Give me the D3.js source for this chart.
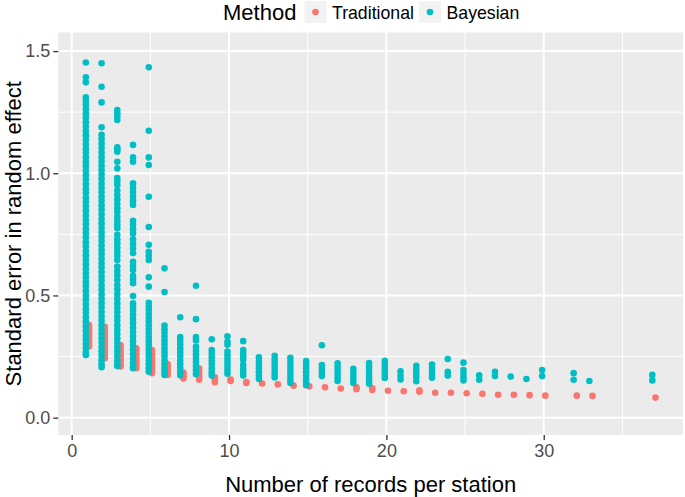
<!DOCTYPE html>
<html>
<head>
<meta charset="utf-8">
<script src="https://cdn.jsdelivr.net/npm/d3@7/dist/d3.min.js"></script>
<style>
body { margin: 0; background: #fff; }
text { font-family: "Liberation Sans", Arial, Helvetica, sans-serif; }
</style>
</head>
<body>
<div id="chart"></div>
<script>
// number of records per station (x categories that appear in the plot)
var recordsPerStation = [1, 2, 3, 4, 5, 6, 7, 8, 9, 10, 11, 12, 13, 14, 15, 16, 17, 18, 19, 20,
	21, 22, 23, 24, 25, 26, 27, 28, 29, 30, 32, 33, 37];

// standard error, traditional method (one list per x above)
var traditionalSE = [
	[0.379, 0.371, 0.364, 0.356, 0.349, 0.341, 0.334, 0.326, 0.318, 0.311, 0.303, 0.297, 0.291],
	[0.372, 0.363, 0.354, 0.345, 0.336, 0.327, 0.318, 0.309, 0.300, 0.291, 0.282, 0.272, 0.262, 0.252, 0.243],
	[0.297, 0.289, 0.280, 0.271, 0.262, 0.253, 0.244, 0.235, 0.226, 0.217, 0.209],
	[0.284, 0.275, 0.266, 0.257, 0.248, 0.239, 0.230, 0.221, 0.212, 0.202],
	[0.277, 0.268, 0.258, 0.248, 0.238, 0.228, 0.218, 0.209, 0.200, 0.191, 0.182],
	[0.219, 0.208, 0.197, 0.186, 0.175],
	[0.185, 0.176, 0.167, 0.160],
	[0.202, 0.190, 0.178, 0.166, 0.155],
	[0.165, 0.155, 0.145],
	[0.156, 0.150],
	[0.146, 0.142],
	[0.140],
	[0.136],
	[0.131],
	[0.128],
	[0.124],
	[0.119],
	[0.124, 0.116],
	[0.120, 0.113],
	[0.110],
	[0.108],
	[0.112, 0.106],
	[0.102],
	[0.102],
	[0.100],
	[0.098],
	[0.094],
	[0.094],
	[0.092],
	[0.090],
	[0.090],
	[0.089],
	[0.082]
];

// standard error, bayesian method (one list per x above)
var bayesianSE = [
	[1.453, 1.393, 1.372, 1.311, 1.296, 1.279, 1.262, 1.244, 1.227, 1.209, 1.190, 1.172, 1.155, 1.137, 1.118, 1.100,
		1.083, 1.064, 1.046, 1.028, 1.010, 0.992, 0.974, 0.955, 0.937, 0.919, 0.900, 0.882, 0.864, 0.846, 0.828,
		0.809, 0.791, 0.773, 0.755, 0.737, 0.718, 0.700, 0.682, 0.664, 0.645, 0.627, 0.609, 0.591, 0.573, 0.555,
		0.537, 0.518, 0.500, 0.482, 0.464, 0.446, 0.428, 0.410, 0.392, 0.374, 0.356, 0.338, 0.320, 0.302, 0.284,
		0.266, 0.256],
	[1.450, 1.354, 1.290, 1.188, 1.157, 1.139, 1.122, 1.104, 1.085, 1.067, 1.049, 1.031, 1.013, 0.995, 0.977,
		0.958, 0.940, 0.922, 0.904, 0.886, 0.868, 0.850, 0.831, 0.813, 0.795, 0.777, 0.759, 0.741, 0.723, 0.704,
		0.686, 0.668, 0.650, 0.632, 0.614, 0.596, 0.578, 0.560, 0.541, 0.523, 0.505, 0.487, 0.469, 0.451, 0.433,
		0.415, 0.397, 0.379, 0.361, 0.343, 0.325, 0.307, 0.289, 0.271, 0.253, 0.235, 0.218, 0.206],
	[1.259, 1.245, 1.232, 1.218, 1.106, 1.097, 1.088, 1.047, 1.020, 0.980, 0.966, 0.952, 0.929, 0.911, 0.893,
		0.875, 0.857, 0.840, 0.822, 0.806, 0.790, 0.775, 0.748, 0.730, 0.713, 0.696, 0.679, 0.662, 0.645, 0.618,
		0.600, 0.582, 0.563, 0.543, 0.525, 0.506, 0.487, 0.468, 0.450, 0.432, 0.414, 0.396, 0.378, 0.360, 0.342,
		0.324, 0.306, 0.288, 0.270, 0.252, 0.234, 0.218, 0.211],
	[1.116, 1.065, 1.047, 0.959, 0.941, 0.923, 0.905, 0.887, 0.870, 0.806, 0.789, 0.771, 0.754, 0.730, 0.711,
		0.692, 0.673, 0.638, 0.621, 0.604, 0.580, 0.565, 0.550, 0.498, 0.468, 0.454, 0.440, 0.422, 0.404, 0.386,
		0.368, 0.350, 0.332, 0.314, 0.296, 0.278, 0.260, 0.242, 0.224, 0.208, 0.202],
	[1.434, 1.174, 1.065, 1.034, 0.904, 0.780, 0.707, 0.679, 0.662, 0.645, 0.574, 0.536, 0.470, 0.455, 0.440,
		0.425, 0.410, 0.394, 0.378, 0.362, 0.346, 0.330, 0.314, 0.298, 0.282, 0.266, 0.250, 0.234, 0.218, 0.202, 0.188],
	[0.611, 0.514, 0.377, 0.362, 0.347, 0.331, 0.315, 0.299, 0.283, 0.267, 0.251, 0.235, 0.219, 0.203, 0.189, 0.175],
	[0.411, 0.330, 0.315, 0.299, 0.283, 0.267, 0.251, 0.235, 0.219, 0.203, 0.187, 0.173],
	[0.540, 0.403, 0.330, 0.316, 0.290, 0.274, 0.258, 0.242, 0.226, 0.210, 0.194, 0.178],
	[0.321, 0.277, 0.262, 0.247, 0.232, 0.217, 0.201, 0.186, 0.172],
	[0.333, 0.310, 0.298, 0.270, 0.255, 0.240, 0.225, 0.210, 0.195, 0.180],
	[0.313, 0.277, 0.263, 0.250, 0.237, 0.216, 0.200, 0.185, 0.172],
	[0.247, 0.232, 0.217, 0.202, 0.187, 0.172, 0.158],
	[0.253, 0.238, 0.223, 0.208, 0.193, 0.178, 0.164],
	[0.245, 0.230, 0.215, 0.200, 0.185, 0.170, 0.155, 0.142],
	[0.232, 0.217, 0.202, 0.187, 0.172, 0.158, 0.145, 0.133],
	[0.296, 0.215, 0.200, 0.185, 0.170],
	[0.222, 0.207, 0.192, 0.177, 0.162, 0.150],
	[0.200, 0.185, 0.170, 0.155, 0.142],
	[0.223, 0.208, 0.193, 0.178, 0.163, 0.150, 0.139],
	[0.233, 0.218, 0.203, 0.188, 0.174, 0.162],
	[0.190, 0.172, 0.156],
	[0.212, 0.197, 0.182, 0.166, 0.149],
	[0.217, 0.202, 0.187, 0.174, 0.163],
	[0.240, 0.188, 0.172],
	[0.225, 0.195, 0.180, 0.165, 0.152],
	[0.173, 0.155],
	[0.188, 0.170],
	[0.168],
	[0.158],
	[0.195, 0.170],
	[0.182, 0.155],
	[0.150],
	[0.175, 0.152]
];

var methods = ["Traditional", "Bayesian"];
var methodColors = ["#F8766D", "#00BFC4"];
var xTicks = [0, 10, 20, 30];
var xMinor = [5, 15, 25, 35];
var yTicks = [0, 0.5, 1.0, 1.5];
var yMinor = [0.25, 0.75, 1.25];

var width = 685, height = 497;
var panel = { left: 58.3, right: 683, top: 32.5, bottom: 435 };
var dodge = 0.1;

var svg = d3.select("#chart").append("svg").attr("width", width).attr("height", height);

var x = d3.scaleLinear().domain([-0.85, 38.85]).range([panel.left, panel.right]);
var y = d3.scaleLinear().domain([-0.071, 1.576]).range([panel.bottom, panel.top]);
var color = d3.scaleOrdinal().domain(methods).range(methodColors);

// flatten into points
var points = [];
[traditionalSE, bayesianSE].forEach(function(series, m) {
	series.forEach(function(vals, i) {
		vals.forEach(function(v) {
			points.push({ x: recordsPerStation[i], y: v, method: methods[m], off: m == 0 ? dodge : -dodge });
		});
	});
});

// panel background
svg.append("rect").attr("x", panel.left).attr("y", panel.top)
	.attr("width", panel.right - panel.left).attr("height", panel.bottom - panel.top)
	.attr("fill", "#EBEBEB");

var grid = svg.append("g");
grid.selectAll(".xminor").data(xMinor).enter().append("line")
	.attr("x1", function(d) { return x(d); }).attr("x2", function(d) { return x(d); })
	.attr("y1", panel.top).attr("y2", panel.bottom)
	.attr("stroke", "#fff").attr("stroke-width", 1);
grid.selectAll(".yminor").data(yMinor).enter().append("line")
	.attr("y1", function(d) { return y(d); }).attr("y2", function(d) { return y(d); })
	.attr("x1", panel.left).attr("x2", panel.right)
	.attr("stroke", "#fff").attr("stroke-width", 1);
grid.selectAll(".xmajor").data(xTicks).enter().append("line")
	.attr("x1", function(d) { return x(d); }).attr("x2", function(d) { return x(d); })
	.attr("y1", panel.top).attr("y2", panel.bottom)
	.attr("stroke", "#fff").attr("stroke-width", 2);
grid.selectAll(".ymajor").data(yTicks).enter().append("line")
	.attr("y1", function(d) { return y(d); }).attr("y2", function(d) { return y(d); })
	.attr("x1", panel.left).attr("x2", panel.right)
	.attr("stroke", "#fff").attr("stroke-width", 2);

// points
svg.append("g").selectAll("circle").data(points).enter().append("circle")
	.attr("cx", function(d) { return x(d.x + d.off); })
	.attr("cy", function(d) { return y(d.y); })
	.attr("r", 3.3)
	.attr("fill", function(d) { return color(d.method); });

// axes
var xAxis = svg.append("g").attr("transform", "translate(0," + panel.bottom + ")")
	.call(d3.axisBottom(x).tickValues(xTicks).tickSize(5).tickPadding(4).tickFormat(d3.format("d")));
var yAxis = svg.append("g").attr("transform", "translate(" + panel.left + ",0)")
	.call(d3.axisLeft(y).tickValues(yTicks).tickSize(5).tickPadding(3).tickFormat(d3.format(".1f")));
[xAxis, yAxis].forEach(function(a) {
	a.select(".domain").remove();
	a.selectAll(".tick line").attr("stroke", "#333").attr("stroke-width", 1.3);
	a.selectAll(".tick text").attr("fill", "#4D4D4D").style("font-size", "18px")
		.style("font-family", "'Liberation Sans', Arial, sans-serif");
});

// axis titles
svg.append("text").attr("x", (panel.left + panel.right) / 2).attr("y", 492)
	.attr("text-anchor", "middle").style("font-size", "22px").attr("fill", "#000")
	.text("Number of records per station");
svg.append("text").attr("transform", "translate(21," + ((panel.top + panel.bottom) / 2) + ") rotate(-90)")
	.attr("text-anchor", "middle").style("font-size", "22px").attr("fill", "#000")
	.text("Standard error in random effect");

// legend
var legend = svg.append("g");
legend.append("text").attr("x", 223).attr("y", 19.5).style("font-size", "22px").text("Method");
var keyX = [304.5, 419], labX = [332, 446.5];
methods.forEach(function(m, i) {
	legend.append("rect").attr("x", keyX[i]).attr("y", 1).attr("width", 22).attr("height", 22).attr("fill", "#F2F2F2");
	legend.append("circle").attr("cx", keyX[i] + 11).attr("cy", 12).attr("r", 3.3).attr("fill", color(m));
	legend.append("text").attr("x", labX[i]).attr("y", 18.5).style("font-size", "17.7px").text(m);
});
</script>
</body>
</html>
